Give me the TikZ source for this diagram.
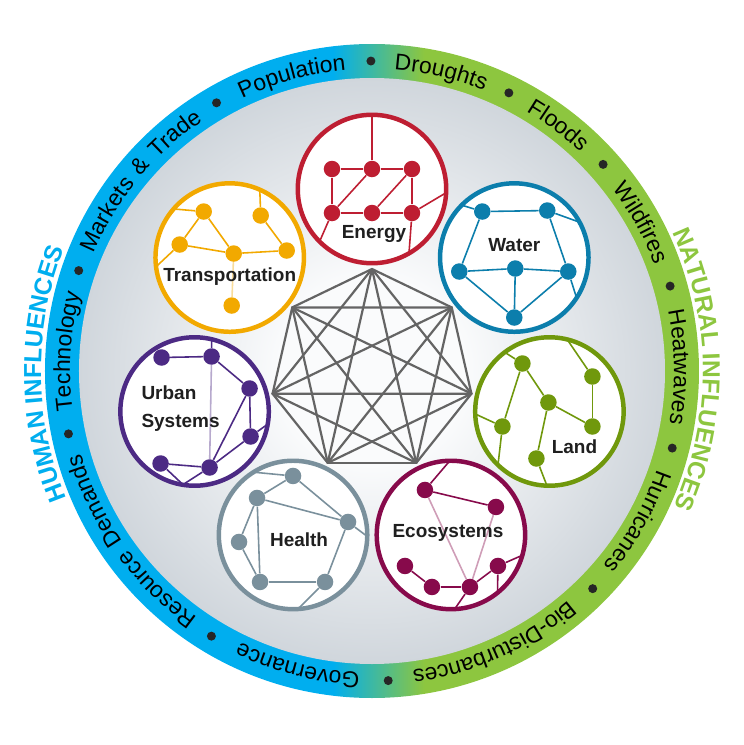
\documentclass[tikz,border=0pt]{standalone}
\usepackage{fontspec}
\setsansfont{Liberation Sans}
\newfontfamily\ringfont[LetterSpace=12]{Liberation Sans}
\usetikzlibrary{decorations.text}
\definecolor{ringblue}{RGB}{0,174,239}
\definecolor{ringgreen}{RGB}{141,198,63}
\definecolor{diskgray}{RGB}{208,214,220}
\definecolor{diskwhite}{RGB}{250,251,252}
\definecolor{webgray}{RGB}{100,100,100}
\definecolor{cEnergy}{RGB}{190,30,50}
\definecolor{cWater}{RGB}{12,126,172}
\definecolor{cTrans}{RGB}{242,169,0}
\definecolor{cLand}{RGB}{112,152,12}
\definecolor{cEco}{RGB}{135,10,75}
\definecolor{cHealth}{RGB}{122,144,156}
\definecolor{cUrban}{RGB}{76,42,132}
\pgfdeclarehorizontalshading{ringshade}{100bp}{color(0bp)=(ringblue); color(47bp)=(ringblue); color(54bp)=(ringgreen); color(100bp)=(ringgreen)}
\pgfdeclareradialshading{diskshade}{\pgfpoint{0bp}{0bp}}{color(0bp)=(diskwhite); color(8bp)=(diskwhite); color(25bp)=(diskgray); color(50bp)=(diskgray)}
\newcommand\ringtext{\ringfont\fontsize{13}{15}\selectfont}
\newcommand\infltext{\sffamily\bfseries\fontsize{14}{16}\selectfont}
\tikzset{hub/.style={circle, draw, fill=white, line width=2.55pt, minimum size=2.97cm},
  dot/.style={circle, fill, inner sep=0pt, minimum size=3.3mm},
  link/.style={line width=0.9pt},
  faint/.style={link, draw opacity=0.4},
  lbl/.style={font=\sffamily\bfseries\fontsize{10.8}{15.5}\selectfont, text=black!88, align=center, inner sep=0pt},
  web/.style={draw=webgray, line width=1.25pt, line cap=round},
  ringword/.style={decorate, decoration={text along path, text align=center, text={|\ringtext|#1}}},
  inflword/.style={decorate, decoration={text along path, text align=center, text color=#1}}}

\begin{document}
\begin{tikzpicture}[x=0.02cm, y=0.02cm, font=\sffamily]
  \useasboundingbox (-372,-374) rectangle (372,371);
  % outer ring and grey disk
  \shade[shading=ringshade] (0,0) circle[radius=327];
  \shade[shading=diskshade] (0,0) circle[radius=293];
  \foreach \ang/\word in {105.2/Population, 140.6/Markets {\&} Trade, 176.4/Technology,
      215.3/Resource Demands, 255.9/Governance, 294.2/Bio-Disturbances, 330.5/Hurricanes,
      0.75/Heatwaves, 28.9/Wildfires, 52.8/Floods, 77/Droughts}
    \path[ringword/.expanded=\word] (\ang+40:302) arc[start angle=\ang+40, end angle=\ang-40, radius=302];
  \foreach \ang in {90.2,120.1,161.1,191.7,238.8,273,315.4,345.6,15.9,41.8,63.8}
    \fill[black!85] (\ang:310) circle[radius=4.5];
  \path[inflword=ringblue, decoration={text={|\infltext|HUMAN INFLUENCES}}] (220.5:331) arc[start angle=220.5, end angle=140.5, radius=331];
  \path[inflword=ringgreen, decoration={text={|\infltext|NATURAL INFLUENCES}}] (40.25:331) arc[start angle=40.25, end angle=-39.75, radius=331];

  % central web, every sector linked to every other
  \foreach \i in {0,...,6} \coordinate (k\i) at (90+\i*360/7:102);
  \foreach \i in {0,...,5}{
    \pgfmathtruncatemacro\nxt{\i+1}
    \foreach \j in {\nxt,...,6} \draw[web] (k\i) -- (k\j);
  }

  % energy
  \begin{scope}[shift={(90:182)}, color=cEnergy]
    \node[hub] (en) at (0,0) {};
    \foreach \n/\x/\y in {1/-40/20, 2/0/20, 3/40/20, 4/-40/-24, 5/0/-24, 6/40/-24}
      \node[dot] (en\n) at (\x,\y) {};
    \foreach \p/\a in {a/90, b/225, c/-3, d/-60} \coordinate (en-\p) at (\a:74);
    \foreach \s/\t in {1/2, 2/3, 4/5, 5/6, 1/4, 3/6, 4/2, 5/3, 2/-a, 4/-b, 6/-c, 6/-d}
      \draw[link] (en\s) -- (en\t);
    \node[lbl] (en-l) at (2,-45) {Energy};
  \end{scope}
  % water
  \begin{scope}[shift={(38.57:182)}, color=cWater]
    \node[hub] (wa) at (0,0) {};
    \foreach \n/\x/\y in {1/-32/46, 2/33/47, 3/-55/-14, 4/1/-11, 5/54/-14, 6/0/-60}
      \node[dot] (wa\n) at (\x,\y) {};
    \foreach \p/\a in {a/135, b/28.6, c/-32.8} \coordinate (wa-\p) at (\a:74);
    \foreach \s/\t in {1/2, 1/3, 2/5, 3/4, 4/5, 3/6, 4/6, 5/6, 1/-a, 2/-b, 5/-c}
      \draw[link] (wa\s) -- (wa\t);
    \node[lbl] (wa-l) at (0,12) {Water};
  \end{scope}
  % land
  \begin{scope}[shift={(-12.86:182)}, color=cLand]
    \node[hub] (la) at (0,0) {};
    \foreach \n/\x/\y in {1/-27/48, 2/43/35, 3/-1/9, 4/-47/-15, 5/43/-15, 6/-13/-47}
      \node[dot] (la\n) at (\x,\y) {};
    \foreach \p/\a in {a/127, b/76, c/182, d/226, e/268} \coordinate (la-\p) at (\a:74);
    \foreach \s/\t in {1/4, 1/3, 3/5, 2/5, 3/6, 1/-a, 2/-b, 4/-c, 4/-d, 6/-e}
      \draw[link] (la\s) -- (la\t);
    \node[lbl] (la-l) at (25,-35) {Land};
  \end{scope}
  % ecosystems
  \begin{scope}[shift={(-64.29:182)}, color=cEco]
    \node[hub] (ec) at (0,0) {};
    \foreach \n/\x/\y in {1/-26/45, 2/45/28, 3/-46/-31, 4/-19/-52, 5/19/-52, 6/47/-31}
      \node[dot] (ec\n) at (\x,\y) {};
    \foreach \p/\a in {a/91, b/-16, c/-51, d/-87} \coordinate (ec-\p) at (\a:74);
    \foreach \s/\t in {1/2, 3/4, 4/5, 5/6, 1/-a, 6/-b, 6/-c, 5/-d}
      \draw[link] (ec\s) -- (ec\t);
    \draw[faint] (ec1) -- (ec5);
    \draw[faint] (ec2) -- (ec5);
    \node[lbl] (ec-l) at (-3,2) {Ecosystems};
  \end{scope}
  % health
  \begin{scope}[shift={(-115.71:182)}, color=cHealth]
    \node[hub] (he) at (0,0) {};
    \foreach \n/\x/\y in {1/0/59, 2/-36/37, 3/55/13, 4/-54/-7, 5/-33/-47, 6/32/-47}
      \node[dot] (he\n) at (\x,\y) {};
    \foreach \p/\a in {a/122, b/-1, c/-86} \coordinate (he-\p) at (\a:74);
    \foreach \s/\t in {1/2, 1/3, 2/3, 2/4, 2/5, 4/5, 5/6, 3/6, 1/-a, 3/-b, 6/-c}
      \draw[link] (he\s) -- (he\t);
    \node[lbl] (he-l) at (6,-5) {Health};
  \end{scope}
  % urban systems
  \begin{scope}[shift={(192.86:182)}, color=cUrban]
    \node[hub] (ur) at (0,0) {};
    \foreach \n/\x/\y in {1/-33/54, 2/17/55, 3/55/23, 4/56/-25, 5/-34/-52, 6/15/-56}
      \node[dot] (ur\n) at (\x,\y) {};
    \foreach \p/\a in {a/76.6, b/261, c/-10} \coordinate (ur-\p) at (\a:74);
    \foreach \s/\t in {1/2, 2/3, 3/4, 3/6, 4/6, 5/6, 2/-a, 5/-b, 6/-b, 4/-c}
      \draw[link] (ur\s) -- (ur\t);
    \draw[faint] (ur2) -- (ur6);
    \node[lbl, align=left] (ur-l) at (-14,3) {Urban\\Systems};
  \end{scope}
  % transportation
  \begin{scope}[shift={(141.43:182)}, color=cTrans]
    \node[hub] (tr) at (0,0) {};
    \foreach \n/\x/\y in {1/-26/46, 2/31/42, 3/-50/13, 4/4/4, 5/57/7, 6/2/-48}
      \node[dot] (tr\n) at (\x,\y) {};
    \foreach \p/\a in {a/139, b/66, c/187} \coordinate (tr-\p) at (\a:74);
    \foreach \s/\t in {1/3, 1/4, 3/4, 4/5, 2/5, 1/-a, 2/-b, 3/-c}
      \draw[link] (tr\s) -- (tr\t);
    \draw[faint] (tr4) -- (tr6);
    \node[lbl] (tr-l) at (0,-19) {Transportation};
  \end{scope}
\end{tikzpicture}
\end{document}
